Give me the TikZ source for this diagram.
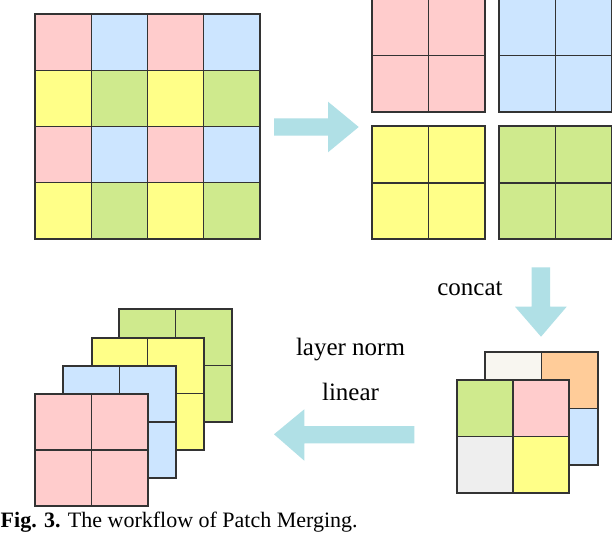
\documentclass[tikz,border=0pt]{standalone}
\usepackage{fontspec}
\setmainfont{Liberation Serif}
\definecolor{cpink}{RGB}{255,204,204}
\definecolor{cblue}{RGB}{204,229,255}
\definecolor{cyellow}{RGB}{255,255,136}
\definecolor{cgreen}{RGB}{207,234,141}
\definecolor{ccream}{RGB}{248,246,240}
\definecolor{corange}{RGB}{255,204,153}
\definecolor{cgray}{RGB}{238,238,238}
\definecolor{linec}{RGB}{51,51,51}
\definecolor{arrowc}{RGB}{176,224,230}
\tikzset{
  innerline/.style={draw=linec, line width=1.2pt},
  frameline/.style={draw=linec, line width=2pt},
  blockarrow/.style={fill=arrowc, draw=none},
  label/.style={font=\fontsize{25}{30}\selectfont, inner sep=0pt, anchor=base},
  caption/.style={font=\fontsize{22}{26}\selectfont, inner sep=0pt, anchor=base west}
}
\newcommand\pmblock[7]{%
  \begin{scope}[shift={(#1,#2)}]
    \pgfmathsetmacro\pmhalf{#3/2}
    \fill[#4] (0,0) rectangle (\pmhalf,\pmhalf);
    \fill[#5] (\pmhalf,0) rectangle (#3,\pmhalf);
    \fill[#6] (0,\pmhalf) rectangle (\pmhalf,#3);
    \fill[#7] (\pmhalf,\pmhalf) rectangle (#3,#3);
    \draw[innerline] (\pmhalf,0) -- (\pmhalf,#3) (0,\pmhalf) -- (#3,\pmhalf);
    \draw[frameline] (0,0) rectangle (#3,#3);
  \end{scope}}
\begin{document}
\begin{tikzpicture}[x=1pt,y=-1pt]
\useasboundingbox (0,0) rectangle (612,534);
\fill[white] (0,0) rectangle (612,534);
% big 4x4 grid
\foreach \c/\r/\col in {0/0/cpink,1/0/cblue,2/0/cpink,3/0/cblue,
                        0/1/cyellow,1/1/cgreen,2/1/cyellow,3/1/cgreen,
                        0/2/cpink,1/2/cblue,2/2/cpink,3/2/cblue,
                        0/3/cyellow,1/3/cgreen,2/3/cyellow,3/3/cgreen}
  \fill[\col] ({35+\c*56.25},{14+\r*56.25}) rectangle +(56.25,56.25);
\foreach \i in {1,2,3} {
  \draw[innerline] ({35+\i*56.25},14) -- +(0,225);
  \draw[innerline] (35,{14+\i*56.25}) -- +(225,0);
}
\draw[frameline] (35,14) rectangle (260,239);
% right arrow
\fill[blockarrow] (274,118.3) -- (328,118.3) -- (328,101.7) -- (358.7,127)
  -- (328,152.3) -- (328,135.7) -- (274,135.7) -- cycle;
% split blocks
\pmblock{372}{-1}{113}{cpink}{cpink}{cpink}{cpink}
\pmblock{499}{-1}{113}{cblue}{cblue}{cblue}{cblue}
\pmblock{372}{126.5}{113}{cyellow}{cyellow}{cyellow}{cyellow}
\pmblock{499}{126.5}{113}{cgreen}{cgreen}{cgreen}{cgreen}
% down arrow
\fill[blockarrow] (531.7,267.3) -- (550,267.3) -- (550,306.7) -- (566.7,306.7)
  -- (541,336.7) -- (515,306.7) -- (531.7,306.7) -- cycle;
\node[label] (concat) at (470,295) {concat};
% concatenated block
\pmblock{485}{352.3}{112.5}{ccream}{corange}{cgray}{cblue}
\pmblock{456.7}{380}{112.5}{cgreen}{cpink}{cgray}{cyellow}
% left arrow
\fill[blockarrow] (414.3,426) -- (304.3,426) -- (304.3,409.3) -- (274,434.3)
  -- (304.3,460.7) -- (304.3,443.3) -- (414.3,443.3) -- cycle;
\node[label] (norm) at (350.5,355) {layer norm};
\node[label] (linear) at (350.5,400) {linear};
% stacked output
\pmblock{119.3}{309.3}{112.5}{cgreen}{cgreen}{cgreen}{cgreen}
\pmblock{91.5}{337.5}{112.5}{cyellow}{cyellow}{cyellow}{cyellow}
\pmblock{63.3}{365.7}{112.5}{cblue}{cblue}{cblue}{cblue}
\pmblock{35}{393.7}{112.5}{cpink}{cpink}{cpink}{cpink}
% caption
\node[caption] (cap) at (0.5,527) {\textbf{Fig. 3.} The workflow of Patch Merging.};
\end{tikzpicture}
\end{document}
